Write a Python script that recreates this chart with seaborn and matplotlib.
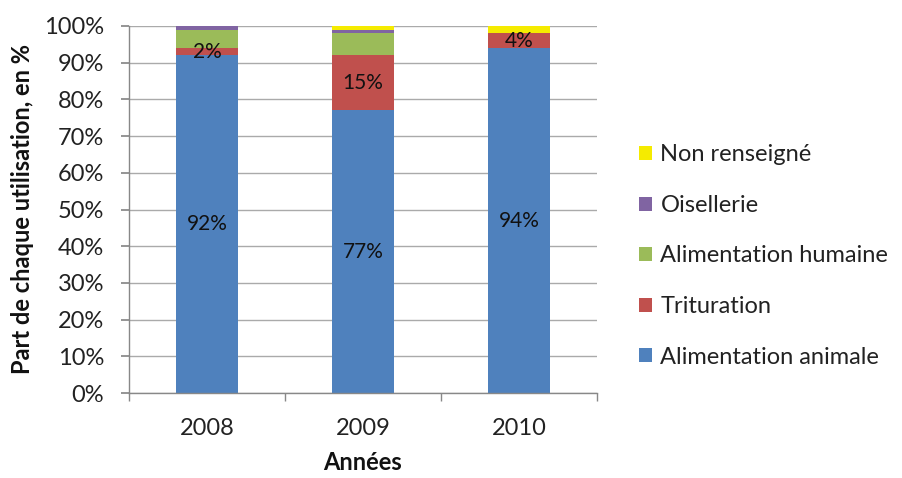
import matplotlib
matplotlib.use("Agg")
import matplotlib.pyplot as plt
import seaborn as sns
import pandas as pd
import numpy as np
from matplotlib.patches import Patch

years = ["2008", "2009", "2010"]
series_names = ["Alimentation animale", "Trituration", "Alimentation humaine", "Oisellerie", "Non renseigné"]
alim_animale = [92, 77, 94]
trituration = [2, 15, 4]
alim_humaine = [5, 6, 0]
oisellerie = [1, 1, 0]
non_renseigne = [0, 1, 2]
colors = ["#4F81BD", "#C0504D", "#9BBB59", "#8064A2", "#F5EB00"]
labelled = {"Alimentation animale", "Trituration"}

values = [alim_animale, trituration, alim_humaine, oisellerie, non_renseigne]

sns.set_theme(style="white")
plt.rcParams['font.family'] = ['Lato', 'DejaVu Sans']

fig = plt.figure(figsize=(9.03, 4.78), dpi=100)
ax = fig.add_axes([129/903, 85/478, 468/903, 367/478])

bottom = np.zeros(len(years))
for name, vals, col in zip(series_names, values, colors):
    df = pd.DataFrame({"Année": years, "v": vals})
    sns.barplot(data=df, x="Année", y="v", color=col, width=0.4, bottom=bottom,
                ax=ax, saturation=1, linewidth=0, errorbar=None)
    cont = ax.containers[-1]
    if name in labelled:
        ax.bar_label(cont, labels=[f"{v}%" for v in vals], label_type="center",
                     fontsize=15, color="#111111")
    bottom = bottom + np.array(vals)

ax.set_ylim(0, 100)
ax.set_xlim(-0.5, 2.5)
ax.set_yticks(np.arange(0, 101, 10))
ax.set_yticklabels([f"{v}%" for v in range(0, 101, 10)], fontsize=17, color="#222222")
ax.set_xticks([0, 1, 2])
ax.set_xticklabels(years, fontsize=17, color="#222222")
ax.set_xticks([-0.5, 0.5, 1.5, 2.5], minor=True)
ax.tick_params(axis="x", which="major", length=0, pad=18)
ax.tick_params(axis="x", which="minor", length=6, color="#888888", direction="out", bottom=True)
ax.tick_params(axis="y", length=6, color="#888888", direction="out", left=True, pad=12)
ax.yaxis.grid(True, color="#AAAAAA", linewidth=1)
ax.set_axisbelow(True)
for s in ["top", "right"]:
    ax.spines[s].set_visible(False)
for s in ["left", "bottom"]:
    ax.spines[s].set_color("#888888")
    ax.spines[s].set_linewidth(1)

ax.set_xlabel("Années", fontsize=17, fontweight="bold", labelpad=9, color="#111111")
ax.set_ylabel("Part de chaque utilisation, en %", fontsize=17, fontweight="bold", labelpad=7, color="#111111")

handles = [Patch(facecolor=c, edgecolor="none") for c in colors][::-1]
labels = series_names[::-1]
fig.legend(handles, labels, loc="center left", bbox_to_anchor=(618/903, 1 - 256/478),
           frameon=False, fontsize=17, handlelength=0.55, handleheight=0.55,
           handletextpad=0.35, labelspacing=1.25, labelcolor="#222222")

fig.savefig("out.png", dpi=100)
